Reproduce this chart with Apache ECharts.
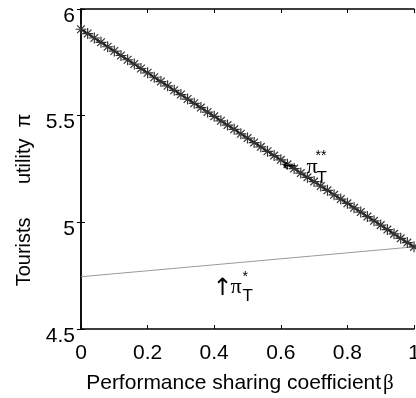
<!DOCTYPE html>
<html>
<head>
<meta charset="utf-8">
<script src="https://cdn.jsdelivr.net/npm/echarts@6.0.0/dist/echarts.min.js"></script>
<style>
  html, body { margin: 0; padding: 0; background: #fff; }
  #chart { width: 416px; height: 398px; }
</style>
</head>
<body>
<div id="chart"></div>
<script>
// beta values for the pi_T^** curve (star markers)
const betaStar = [0, 0.02, 0.04, 0.06, 0.08, 0.1, 0.12, 0.14, 0.16, 0.18,
  0.2, 0.22, 0.24, 0.26, 0.28, 0.3, 0.32, 0.34, 0.36, 0.38,
  0.4, 0.42, 0.44, 0.46, 0.48, 0.5, 0.52, 0.54, 0.56, 0.58,
  0.6, 0.62, 0.64, 0.66, 0.68, 0.7, 0.72, 0.74, 0.76, 0.78,
  0.8, 0.82, 0.84, 0.86, 0.88, 0.9, 0.92, 0.94, 0.96, 0.98, 1]
const utilityStar2 = [5.905, 5.885, 5.864, 5.844, 5.823, 5.803, 5.782, 5.762, 5.742, 5.721,
  5.701, 5.680, 5.660, 5.640, 5.619, 5.599, 5.578, 5.558, 5.538, 5.517,
  5.497, 5.476, 5.456, 5.436, 5.415, 5.395, 5.374, 5.354, 5.333, 5.313,
  5.293, 5.272, 5.252, 5.231, 5.211, 5.191, 5.170, 5.150, 5.129, 5.109,
  5.089, 5.068, 5.048, 5.027, 5.007, 4.987, 4.966, 4.946, 4.925, 4.905, 4.885]

// pi_T^* curve
const betaLine = [0, 0.1, 0.2, 0.3, 0.4, 0.5, 0.6, 0.7, 0.8, 0.9, 1]
const utilityStar1 = [4.745, 4.759, 4.773, 4.787, 4.801, 4.815, 4.829, 4.843, 4.857, 4.871, 4.885]

const xTicks = [0, 0.2, 0.4, 0.6, 0.8, 1]
const xTickLabels = ["0", "0.2", "0.4", "0.6", "0.8", "1"]
const yTicks = [4.5, 5, 5.5, 6]
const yTickLabels = ["4.5", "5", "5.5", "6"]

const asterisk = "path://M0,5L10,5M5,0L5,10M1.5,1.5L8.5,8.5M8.5,1.5L1.5,8.5"
const font = "Liberation Sans, Arial, sans-serif"

const chart = echarts.init(document.getElementById("chart"))

const axisCommon = {
  type: "value",
  axisLine: { show: true, lineStyle: { color: "#000", width: 1.5 } },
  axisTick: { show: true, inside: true, length: 4, lineStyle: { color: "#000", width: 1 } },
  splitLine: { show: false },
}

const option = {
  animation: false,
  backgroundColor: "#fff",
  grid: { left: 81, right: 2, top: 9, bottom: 69, containLabel: false, outerBoundsMode: "none" },
  xAxis: [
    {
      ...axisCommon,
      position: "bottom",
      min: 0,
      max: 1,
      interval: 0.2,
      axisLabel: {
        color: "#000",
        fontFamily: font,
        fontSize: 21,
        margin: 14,
        formatter: (v) => xTickLabels[xTicks.findIndex((t) => Math.abs(t - v) < 1e-6)] ?? "",
      },
      name: "Performance sharing coefficient{b|β}",
      nameLocation: "middle",
      nameGap: 44,
      nameTextStyle: {
        color: "#000",
        fontFamily: font,
        fontSize: 21,
        padding: [0, 15, 0, 0],
        rich: { b: { fontFamily: "Liberation Serif, serif", fontSize: 21, color: "#000", padding: [0, 0, 0, 2] } },
      },
    },
    {
      ...axisCommon,
      position: "top",
      min: 0,
      max: 1,
      interval: 0.2,
      axisLabel: { show: false },
    },
  ],
  yAxis: [
    {
      ...axisCommon,
      position: "left",
      min: 4.5,
      max: 6,
      interval: 0.5,
      axisLabel: {
        color: "#000",
        fontFamily: font,
        fontSize: 21,
        margin: 6,
        verticalAlign: "top",
        lineHeight: 14,
        formatter: (v) => yTickLabels[yTicks.findIndex((t) => Math.abs(t - v) < 1e-6)] ?? "",
      },
      name: "Tourists      utility  π",
      nameLocation: "middle",
      nameGap: 47,
      nameTextStyle: { color: "#000", fontFamily: font, fontSize: 20, padding: [0, 62, 0, 0] },
    },
    {
      ...axisCommon,
      position: "right",
      min: 4.5,
      max: 6,
      interval: 0.5,
      axisLabel: { show: false },
    },
  ],
  series: [
    {
      type: "line",
      data: betaLine.map((b, i) => [b, utilityStar1[i]]),
      showSymbol: false,
      lineStyle: { color: "#9a9a9a", width: 1 },
    },
    {
      type: "line",
      data: betaStar.map((b, i) => [b, utilityStar2[i]]),
      symbol: asterisk,
      symbolSize: 11,
      showAllSymbol: true,
      itemStyle: { color: "none", borderColor: "#333", borderWidth: 1.2 },
      lineStyle: { color: "#000", width: 1.5 },
    },
  ],
}

chart.setOption(option)

// annotations anchored in data coordinates
const a1 = chart.convertToPixel({ xAxisIndex: 0, yAxisIndex: 0 }, [0.608, 5.26])
const a2 = chart.convertToPixel({ xAxisIndex: 0, yAxisIndex: 0 }, [0.41, 4.7])
const txt = (x, y, text, size, family) => ({
  type: "text",
  x: x,
  y: y,
  z: 100,
  style: { text: text, fill: "#000", font: size + "px " + (family || font), textVerticalAlign: "middle" },
})

chart.setOption({
  graphic: [
    txt(a1[0] - 1, a1[1], "←", 17, "DejaVu Sans, sans-serif"),
    txt(a1[0] + 23, a1[1], "π", 22, "Liberation Serif, serif"),
    txt(a1[0] + 32, a1[1] - 11, "**", 14),
    txt(a1[0] + 33, a1[1] + 11, "T", 17),
    txt(a2[0] - 5, a2[1] + 2, "↑", 24, "DejaVu Sans, sans-serif"),
    txt(a2[0] + 13, a2[1] + 1, "π", 22, "Liberation Serif, serif"),
    txt(a2[0] + 25, a2[1] - 9, "*", 14),
    txt(a2[0] + 25, a2[1] + 10, "T", 17),
  ],
})
</script>
</body>
</html>
